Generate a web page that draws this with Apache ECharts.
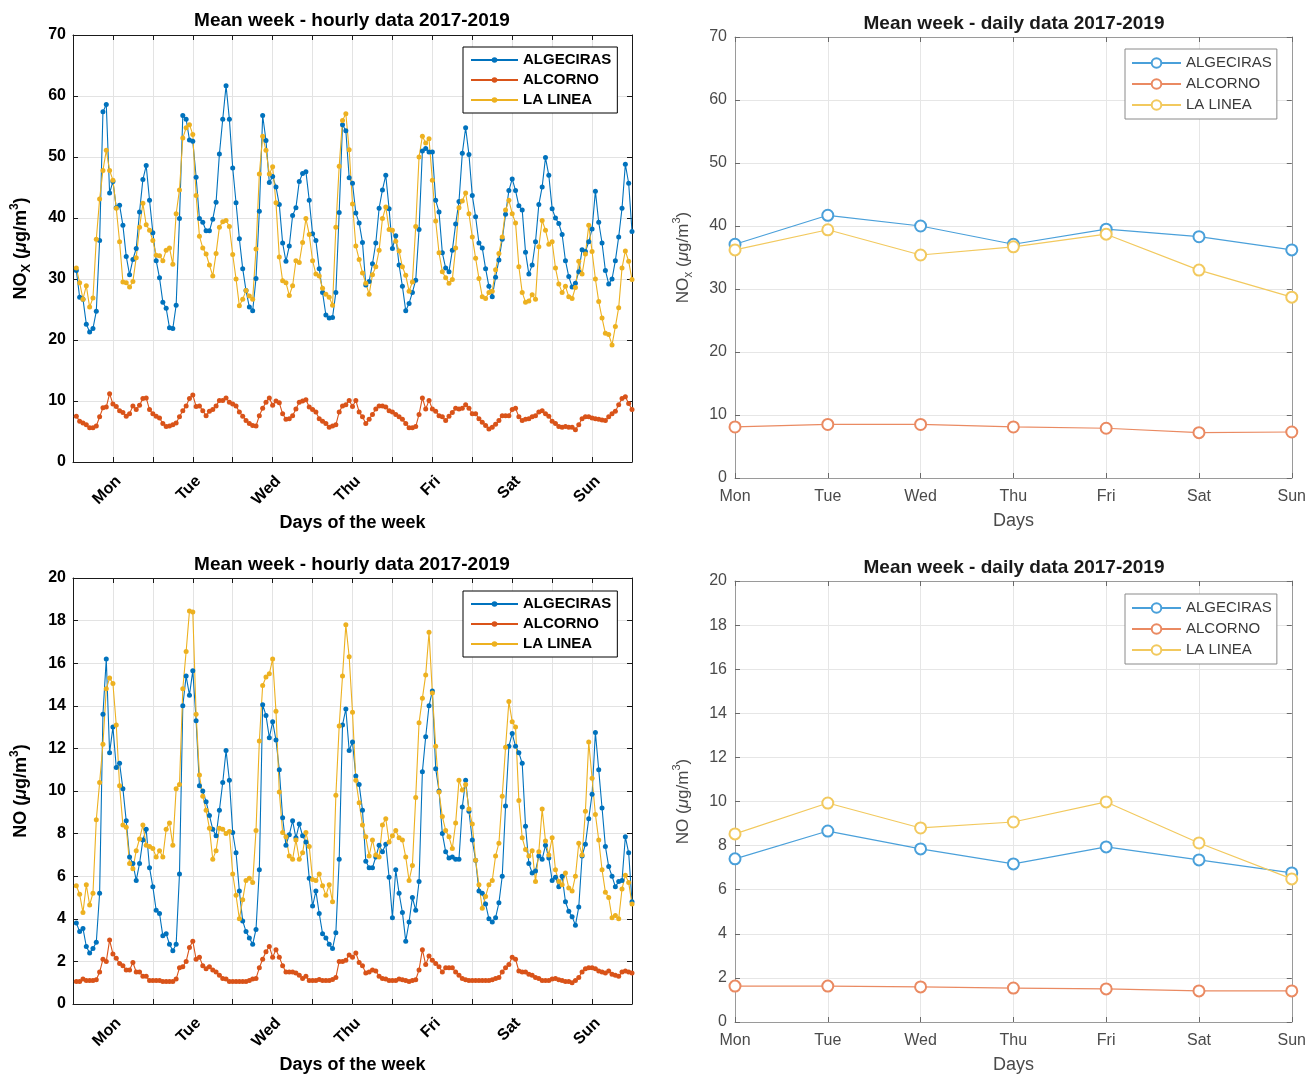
<!DOCTYPE html>
<html><head><meta charset="utf-8">
<script src="https://cdn.jsdelivr.net/npm/echarts@6/dist/echarts.min.js"></script>
<style>html,body{margin:0;padding:0;background:#fff}#c{width:1309px;height:1075px}</style>
</head><body><div id="c"></div>
<script>
const dayNames = ['Mon','Tue','Wed','Thu','Fri','Sat','Sun'];
const stations = ['ALGECIRAS','ALCORNO','LA LINEA'];
const titleHourly = 'Mean week - hourly data 2017-2019';
const titleDaily = 'Mean week - daily data 2017-2019';

// NOx hourly (hours 1..168)
const noxAlgeciras = [31.4,27.0,26.7,22.6,21.3,21.9,24.7,36.3,57.4,58.6,
44.1,46.0,41.7,42.1,38.8,33.7,30.7,33.2,35.0,41.0,
46.3,48.6,42.9,37.6,33.0,30.2,26.2,25.2,22.0,21.9,
25.7,39.9,56.8,56.2,52.8,52.6,46.7,39.9,39.3,37.9,
37.9,39.8,42.6,50.5,56.2,61.7,56.2,48.2,42.5,36.6,
31.7,28.1,25.4,24.8,30.1,41.1,56.8,52.7,45.8,46.8,
45.1,42.2,35.9,32.9,35.4,40.4,41.7,46.0,47.3,47.6,
42.9,37.4,36.3,31.7,27.8,24.1,23.6,23.7,27.8,40.9,
55.3,54.3,46.6,45.7,40.8,39.2,36.0,29.0,29.6,32.5,
35.9,41.6,44.6,47.0,41.5,35.0,37.1,32.3,28.8,24.8,
26.0,27.8,29.8,38.1,51.0,51.4,50.8,50.8,42.9,41.0,
34.3,31.8,31.2,34.7,39.0,42.7,50.6,54.8,50.4,43.7,
40.2,35.9,35.1,31.7,28.8,27.1,30.3,33.1,36.5,40.6,
44.5,46.4,44.5,42.0,41.3,34.4,30.8,32.3,36.1,42.2,
45.1,49.9,47.0,41.5,40.0,39.1,37.3,33.0,30.4,28.7,
29.3,31.2,34.8,34.5,36.1,38.2,44.4,39.3,35.9,31.4,
29.2,30.0,33.0,36.9,41.6,48.8,45.7,37.8];
const noxAlcorno = [7.5,6.7,6.4,6.1,5.6,5.6,5.9,7.4,8.9,9.0,
11.2,9.5,9.1,8.4,8.1,7.5,7.9,9.2,8.6,9.3,
10.4,10.5,8.6,7.9,7.5,7.2,6.3,5.8,5.9,6.1,
6.4,7.4,8.4,9.2,10.4,11.0,9.1,9.2,8.4,7.6,
8.3,8.6,9.2,10.1,10.1,10.5,9.8,9.5,9.2,8.2,
7.5,6.8,6.3,6.0,5.9,7.6,8.8,9.8,10.5,9.3,
10.0,9.7,7.9,7.0,7.1,7.6,8.7,9.8,10.0,10.2,
9.0,8.6,8.2,7.1,6.7,6.3,5.7,5.9,6.1,8.2,
9.2,9.4,10.1,9.1,10.1,8.2,7.4,6.3,7.0,7.8,
8.7,9.2,9.2,9.0,8.4,8.2,7.8,7.4,7.0,6.3,
5.6,5.6,5.8,7.8,10.5,8.7,10.1,8.7,8.3,7.6,
7.4,6.8,7.5,8.1,8.8,8.7,8.8,9.4,8.8,7.9,
7.9,7.1,6.5,6.0,5.4,5.7,6.2,6.8,7.6,7.6,
7.6,8.6,8.8,7.4,6.8,7.0,7.1,7.4,7.6,8.2,
8.4,7.9,7.5,6.7,6.3,5.8,5.7,5.8,5.7,5.7,
5.3,6.1,7.1,7.4,7.4,7.2,7.1,7.0,6.9,6.8,
7.4,7.9,8.3,9.4,10.4,10.7,9.6,8.6];
const noxLaLinea = [31.8,29.4,26.7,28.9,25.4,26.9,36.5,43.1,47.8,51.1,
47.8,46.2,41.6,36.1,29.5,29.4,28.7,29.6,33.5,38.5,
42.4,38.9,38.0,36.3,33.9,33.8,33.0,34.7,35.1,32.4,
40.7,44.6,53.1,54.8,55.3,53.7,43.7,37.0,35.1,34.1,
32.3,30.5,34.2,38.5,39.4,39.6,38.6,34.0,30.0,25.6,
26.7,28.1,27.2,26.7,34.9,47.2,53.4,51.1,47.2,48.4,
42.5,33.6,29.7,29.4,27.3,28.9,33.0,32.7,36.0,39.9,
37.3,33.0,30.8,30.5,28.5,27.5,27.0,25.7,38.5,48.5,
56.0,57.1,51.2,42.3,35.4,33.2,31.0,29.3,27.5,30.7,
32.0,34.7,39.9,41.8,38.1,38.0,36.2,34.6,32.0,30.6,
28.0,29.5,38.6,50.0,53.4,52.3,53.0,46.2,39.5,34.3,
31.2,30.2,29.3,29.9,35.1,41.7,42.8,44.1,40.7,36.9,
33.4,30.1,27.1,26.8,27.8,28.0,31.5,34.2,36.9,41.3,
42.9,40.7,39.2,32.0,27.8,26.2,26.4,27.4,26.7,35.3,
39.6,38.0,35.7,36.1,31.8,29.2,27.8,28.8,27.1,26.8,
28.6,32.9,30.8,34.1,38.8,34.5,30.0,26.3,23.6,21.1,
20.9,19.2,22.2,25.3,31.8,34.6,32.9,29.9];

// NO hourly
const noAlgeciras = [3.8,3.4,3.55,2.7,2.4,2.6,2.9,5.2,13.6,16.2,
11.8,13.0,11.1,11.3,10.1,8.6,6.9,6.6,5.8,6.6,
7.7,8.2,6.4,5.5,4.4,4.25,3.2,3.3,2.8,2.5,
2.8,6.1,14.0,15.4,14.5,15.65,13.3,10.25,10.0,9.5,
8.85,8.2,7.9,9.1,10.4,11.9,10.5,8.05,7.1,5.3,
3.9,3.4,3.1,2.8,3.5,6.3,14.05,13.55,12.5,13.25,
12.4,11.0,8.75,7.45,7.95,8.6,7.8,8.45,7.9,7.6,
5.9,4.6,5.3,4.25,3.3,3.1,2.8,2.6,3.35,6.8,
13.1,13.85,11.9,12.3,10.7,10.3,9.1,6.7,6.4,6.4,
6.9,7.45,7.15,7.5,5.95,4.05,6.3,5.2,4.3,2.95,
3.85,5.0,4.4,5.75,10.9,12.55,14.0,14.7,11.05,10.0,
8.0,7.15,6.85,6.9,6.8,6.8,9.25,10.5,9.05,7.7,
6.75,5.3,5.2,4.7,4.0,3.85,4.05,4.75,6.0,9.3,
12.1,12.7,12.1,11.8,11.3,8.35,6.6,6.15,6.25,6.95,
6.8,7.45,6.85,5.8,5.95,5.5,6.0,4.8,4.35,4.1,
3.7,4.55,6.95,7.5,8.7,9.85,12.75,11.0,9.2,7.4,
6.45,6.0,5.5,5.75,5.8,7.85,7.1,4.8];
const noAlcorno = [1.06,1.06,1.17,1.1,1.1,1.1,1.14,1.5,2.1,2.0,
3.0,2.35,2.15,1.9,1.8,1.6,1.6,1.95,1.5,1.5,
1.3,1.3,1.1,1.1,1.1,1.1,1.06,1.06,1.06,1.06,
1.17,1.7,1.75,2.0,2.65,2.95,2.1,2.2,1.8,1.65,
1.75,1.6,1.5,1.35,1.2,1.17,1.06,1.06,1.06,1.06,
1.06,1.06,1.1,1.17,1.2,1.7,2.1,2.45,2.7,2.2,
2.55,2.2,1.8,1.5,1.5,1.5,1.45,1.35,1.2,1.3,
1.1,1.1,1.1,1.15,1.1,1.1,1.1,1.15,1.25,2.0,
2.0,2.05,2.3,2.2,2.4,1.95,1.8,1.45,1.5,1.6,
1.55,1.3,1.2,1.17,1.1,1.1,1.1,1.17,1.14,1.1,
1.06,1.1,1.14,1.6,2.55,1.85,2.25,2.05,1.9,1.75,
1.5,1.7,1.7,1.7,1.5,1.35,1.2,1.14,1.1,1.1,
1.1,1.1,1.1,1.1,1.1,1.14,1.2,1.25,1.5,1.7,
1.85,2.2,2.1,1.55,1.5,1.5,1.4,1.35,1.25,1.2,
1.1,1.1,1.1,1.17,1.2,1.14,1.1,1.06,1.06,1.0,
1.1,1.25,1.5,1.65,1.7,1.7,1.65,1.55,1.5,1.45,
1.55,1.4,1.35,1.3,1.5,1.55,1.5,1.45];
const noLaLinea = [5.55,5.15,4.3,5.6,4.65,5.2,8.65,10.4,12.2,14.8,
15.3,15.05,13.1,10.25,8.4,8.3,6.6,6.35,7.2,7.75,
8.4,7.45,7.4,7.3,6.9,7.2,6.9,8.2,8.5,7.45,
10.1,10.3,14.8,16.55,18.45,18.4,13.6,10.75,9.75,9.1,
8.25,6.8,7.2,8.25,8.2,8.0,8.1,6.1,5.1,4.0,
4.9,5.8,5.9,5.7,8.15,12.35,14.95,15.35,15.5,16.2,
13.75,9.95,8.05,7.85,6.95,6.8,7.7,6.8,7.1,8.05,
7.4,5.85,5.8,6.1,5.55,5.1,5.6,4.8,9.8,13.05,
15.4,17.8,16.3,13.7,10.5,9.45,8.4,7.85,6.95,7.7,
7.0,6.9,8.4,8.7,7.6,7.9,8.15,7.8,7.7,6.9,
5.8,6.5,9.7,13.2,14.35,15.45,17.45,14.6,12.1,9.95,
8.8,8.15,7.85,7.3,8.5,10.5,10.05,10.3,9.15,8.45,
6.75,5.6,4.5,5.05,5.6,5.8,6.95,7.55,9.75,12.05,
14.2,13.25,13.0,9.55,7.8,7.25,6.95,7.2,5.75,7.15,
9.15,7.65,7.0,7.8,6.3,5.75,5.6,6.15,5.45,5.3,
6.0,7.55,7.0,9.05,12.3,10.6,8.9,7.7,6.3,5.25,
5.0,4.05,4.15,4.0,5.4,6.05,5.7,4.7];

// Daily means
const noxDailyAlgeciras = [37.1,41.7,40.0,37.1,39.5,38.3,36.2];
const noxDailyAlcorno = [8.1,8.5,8.5,8.1,7.9,7.2,7.3];
const noxDailyLaLinea = [36.2,39.4,35.4,36.7,38.7,33.0,28.7];
const noDailyAlgeciras = [7.4,8.66,7.85,7.17,7.94,7.35,6.76];
const noDailyAlcorno = [1.63,1.63,1.59,1.54,1.5,1.41,1.41];
const noDailyLaLinea = [8.53,9.93,8.8,9.07,9.98,8.12,6.49];

const FONT = "'Liberation Sans', Arial, sans-serif";
const colorsDark = ['#0072BD','#D95319','#EDB120'];
const colorsLight = ['#4AA0DA','#EA8A62','#F2C95E'];

function hourlyPairs(arr){ return arr.map((v,i)=>[i+1, v]); }

const chart = echarts.init(document.getElementById('c'), null, {renderer:'canvas'});

const grids = [
  {left:73, top:35, width:559, height:427},
  {left:73, top:578, width:559, height:427},
  {left:735, top:37, width:558, height:441},
  {left:735, top:581, width:558, height:441}
];

function hourXAxis(gi, pos){
  const main = pos === 'bottom';
  return {
    type:'value', gridIndex:gi, position:pos, min:0, max:168, interval:12,
    axisLine:{show:true, onZero:false, lineStyle:{color:'#1a1a1a', width:1}},
    axisTick:{show:true, inside:true, length:5, lineStyle:{color:'#1a1a1a'}},
    splitLine:{show:main, lineStyle:{color:'#e3e3e3', width:1}},
    axisLabel:{show:main, rotate:45, margin:11, verticalAlign:'top', fontFamily:FONT, fontSize:16, fontWeight:'bold', color:'#000',
      formatter: v => (v % 24 === 12) ? dayNames[(v-12)/24] : ''},
    name: main ? 'Days of the week' : '', nameLocation:'middle', nameGap:52,
    nameTextStyle:{fontFamily:FONT, fontSize:18, fontWeight:'bold', color:'#000'}
  };
}
function hourYAxis(gi, pos, max, interval, nameRich){
  const main = pos === 'left';
  return {
    type:'value', gridIndex:gi, position:pos, min:0, max:max, interval:interval,
    axisLine:{show:true, onZero:false, lineStyle:{color:'#1a1a1a', width:1}},
    axisTick:{show:true, inside:true, length:5, lineStyle:{color:'#1a1a1a'}},
    splitLine:{show:main, lineStyle:{color:'#e3e3e3', width:1}},
    axisLabel:{show:main, margin:7, fontFamily:FONT, fontSize:16, fontWeight:'bold', color:'#000'},
    name: main ? nameRich : '', nameLocation:'middle', nameGap:40, nameRotate:90,
    nameTextStyle:{fontFamily:FONT, color:'#000', rich:{
      a:{fontFamily:FONT, fontSize:18, fontWeight:'bold', lineHeight:24, color:'#000'},
      m:{fontFamily:FONT, fontSize:18, fontWeight:'bold', fontStyle:'italic', lineHeight:24, color:'#000'},
      b:{fontFamily:FONT, fontSize:13, fontWeight:'bold', verticalAlign:'bottom', lineHeight:14, color:'#000'},
      c:{fontFamily:FONT, fontSize:12, fontWeight:'bold', verticalAlign:'top', lineHeight:14, color:'#000'}
    }}
  };
}
function dayXAxis(gi, pos){
  const main = pos === 'bottom';
  return {
    type:'category', gridIndex:gi, position:pos, data:dayNames, boundaryGap:false,
    axisLine:{show:true, onZero:false, lineStyle:{color:'#9a9a9a', width:1}},
    axisTick:{show:true, inside:true, length:5, lineStyle:{color:'#6a6a6a'}},
    splitLine:{show:main, lineStyle:{color:'#e6e6e6', width:1}},
    axisLabel:{show:main, margin:11, fontFamily:FONT, fontSize:16, color:'#4a4a4a'},
    name: main ? 'Days' : '', nameLocation:'middle', nameGap:34,
    nameTextStyle:{fontFamily:FONT, fontSize:18, color:'#4a4a4a'}
  };
}
function dayYAxis(gi, pos, max, interval, nameRich){
  const main = pos === 'left';
  return {
    type:'value', gridIndex:gi, position:pos, min:0, max:max, interval:interval,
    axisLine:{show:true, onZero:false, lineStyle:{color:'#9a9a9a', width:1}},
    axisTick:{show:true, inside:true, length:5, lineStyle:{color:'#6a6a6a'}},
    splitLine:{show:main, lineStyle:{color:'#e6e6e6', width:1}},
    axisLabel:{show:main, margin:8, fontFamily:FONT, fontSize:16, color:'#4a4a4a'},
    name: main ? nameRich : '', nameLocation:'middle', nameGap:40, nameRotate:90,
    nameTextStyle:{fontFamily:FONT, color:'#4a4a4a', rich:{
      a:{fontFamily:FONT, fontSize:17, lineHeight:24, color:'#4a4a4a'},
      m:{fontFamily:FONT, fontSize:17, fontStyle:'italic', lineHeight:24, color:'#4a4a4a'},
      b:{fontFamily:FONT, fontSize:12, verticalAlign:'bottom', lineHeight:14, color:'#4a4a4a'},
      c:{fontFamily:FONT, fontSize:11, verticalAlign:'top', lineHeight:14, color:'#4a4a4a'}
    }}
  };
}

const noxName = '{a|NO}{b|X}{a| (}{m|μ}{a|g/m}{c|3}{a|)}';
const noxNameR = '{a|NO}{b|x}{a| (}{m|μ}{a|g/m}{c|3}{a|)}';
const noName = '{a|NO (}{m|μ}{a|g/m}{c|3}{a|)}';

const xAxes = [hourXAxis(0,'bottom'), hourXAxis(1,'bottom'), dayXAxis(2,'bottom'), dayXAxis(3,'bottom'),
  hourXAxis(0,'top'), hourXAxis(1,'top'), dayXAxis(2,'top'), dayXAxis(3,'top')];
const yAxes = [hourYAxis(0,'left',70,10,noxName), hourYAxis(1,'left',20,2,noName),
  dayYAxis(2,'left',70,10,noxNameR), dayYAxis(3,'left',20,2,noName),
  hourYAxis(0,'right',70,10,''), hourYAxis(1,'right',20,2,''),
  dayYAxis(2,'right',70,10,''), dayYAxis(3,'right',20,2,'')];

const hourlySets = [[noxAlgeciras,noxAlcorno,noxLaLinea],[noAlgeciras,noAlcorno,noLaLinea]];
const dailySets = [[noxDailyAlgeciras,noxDailyAlcorno,noxDailyLaLinea],[noDailyAlgeciras,noDailyAlcorno,noDailyLaLinea]];

const series = [];
hourlySets.forEach((set, gi) => {
  set.forEach((arr, k) => {
    series.push({type:'line', name:stations[k], xAxisIndex:gi, yAxisIndex:gi,
      data:hourlyPairs(arr), symbol:'circle', symbolSize:5, showSymbol:true,
      color:colorsDark[k], lineStyle:{width:1.1, color:colorsDark[k]}, itemStyle:{color:colorsDark[k]},
      animation:false, emphasis:{disabled:true}});
  });
});
dailySets.forEach((set, j) => {
  set.forEach((arr, k) => {
    series.push({type:'line', name:stations[k]+' ', xAxisIndex:2+j, yAxisIndex:2+j,
      data:arr, symbol:'emptyCircle', symbolSize:11, showSymbol:true,
      color:colorsLight[k], lineStyle:{width:1.2, color:colorsLight[k]},
      itemStyle:{color:colorsLight[k], borderWidth:1.2, borderColor:colorsLight[k]},
      animation:false, emphasis:{disabled:true}});
  });
});

function leftLegend(top){
  return {data:stations, orient:'vertical', left:463, top:top, selectedMode:false,
    padding:[5,6,5,7], itemGap:4, itemWidth:47, itemHeight:7,
    backgroundColor:'#fff', borderColor:'#000', borderWidth:1, borderRadius:0,
    textStyle:{fontFamily:FONT, fontSize:15, fontWeight:'bold', color:'#000', lineHeight:16}};
}
function rightLegend(top){
  return {data:stations.map(s=>s+' '), orient:'vertical', left:1125, top:top, selectedMode:false,
    formatter: n => n.trim(),
    padding:[6,5,6,6], itemGap:5, itemWidth:49, itemHeight:12,
    backgroundColor:'#fff', borderColor:'#8a8a8a', borderWidth:1, borderRadius:0,
    textStyle:{fontFamily:FONT, fontSize:15, color:'#3a3a3a', lineHeight:16}};
}

const titleStyle = (x, y, txt, color) => ({type:'text', x:x, y:y, silent:true,
  style:{text:txt, fill:color, font:"bold 19px 'Liberation Sans', Arial, sans-serif", align:'center', verticalAlign:'middle'}});

chart.setOption({
  backgroundColor:'#fff',
  animation:false,
  grid: grids,
  xAxis: xAxes,
  yAxis: yAxes,
  legend: [leftLegend(47), leftLegend(591), rightLegend(49), rightLegend(594)],
  graphic: [
    titleStyle(352, 21, titleHourly, '#000'),
    titleStyle(352, 565, titleHourly, '#000'),
    titleStyle(1014, 24, titleDaily, '#1a1a1a'),
    titleStyle(1014, 568, titleDaily, '#1a1a1a')
  ],
  series: series
});
</script>
</body></html>
